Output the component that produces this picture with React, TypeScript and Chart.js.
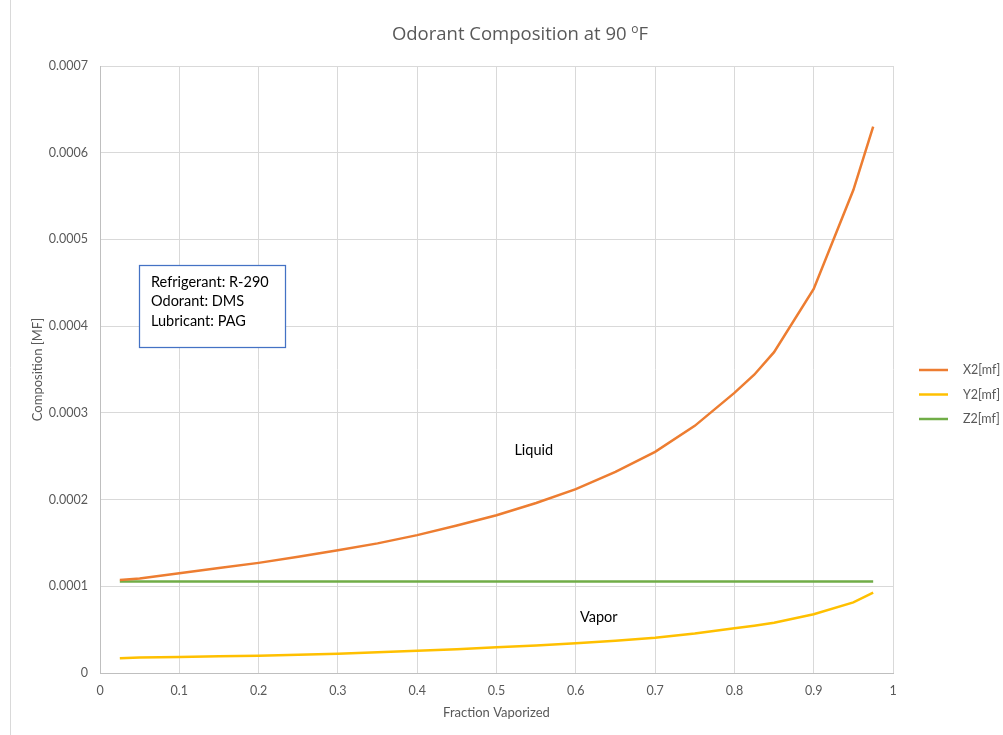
import React, { useEffect, useRef } from "react";
import { Chart, registerables } from "chart.js";

Chart.register(...registerables);

const fractionVaporized = [0.025, 0.05, 0.1, 0.15, 0.2, 0.25, 0.3, 0.35, 0.4, 0.45, 0.5, 0.55, 0.6, 0.65, 0.7, 0.75, 0.8, 0.825, 0.85, 0.9, 0.95, 0.975];
const x2Values = [1.073e-4, 1.09e-4, 1.15e-4, 1.21e-4, 1.27e-4, 1.34e-4, 1.415e-4, 1.495e-4, 1.59e-4, 1.70e-4, 1.82e-4, 1.96e-4, 2.12e-4, 2.32e-4, 2.55e-4, 2.85e-4, 3.23e-4, 3.44e-4, 3.70e-4, 4.43e-4, 5.57e-4, 6.30e-4];
const y2Values = [1.70e-5, 1.78e-5, 1.85e-5, 1.93e-5, 2.0e-5, 2.1e-5, 2.23e-5, 2.38e-5, 2.57e-5, 2.75e-5, 2.96e-5, 3.17e-5, 3.42e-5, 3.72e-5, 4.07e-5, 4.55e-5, 5.15e-5, 5.45e-5, 5.8e-5, 6.77e-5, 8.15e-5, 9.26e-5];
const z2Values = fractionVaporized.map(() => 1.055e-4);
const seriesLabels = ["X2[mf]", "Y2[mf]", "Z2[mf]"];
const seriesColors = ["#ED7D31", "#FFC000", "#70AD47"];
const xTicks = [0, 0.1, 0.2, 0.3, 0.4, 0.5, 0.6, 0.7, 0.8, 0.9, 1];
const yTicks = [0, 0.0001, 0.0002, 0.0003, 0.0004, 0.0005, 0.0006, 0.0007];
const infoLines = ["Refrigerant: R-290", "Odorant: DMS", "Lubricant: PAG"];

const FONT = "Lato, 'Open Sans', sans-serif";
const GREY = "#595959";

const decorPlugin = {
  id: "decor",
  afterDraw(chart: any) {
    const ctx = chart.ctx;
    const xs = chart.scales.x;
    const ys = chart.scales.y;
    ctx.save();
    // left border
    ctx.strokeStyle = "#d9d9d9";
    ctx.lineWidth = 1;
    ctx.beginPath();
    ctx.moveTo(10.5, 0);
    ctx.lineTo(10.5, 735);
    ctx.stroke();

    // title
    ctx.fillStyle = GREY;
    ctx.textBaseline = "middle";
    const p1 = "Odorant Composition at 90 ";
    const big = "18.5px 'Open Sans', sans-serif";
    const small = "12px 'Open Sans', sans-serif";
    ctx.font = big;
    const w1 = ctx.measureText(p1).width;
    ctx.font = small;
    const w2 = ctx.measureText("o").width;
    ctx.font = big;
    const w3 = ctx.measureText("F").width;
    const total = w1 + w2 + w3;
    const tx = 520 - total / 2;
    ctx.textAlign = "left";
    ctx.fillText(p1, tx, 35);
    ctx.font = small;
    ctx.fillText("o", tx + w1, 30);
    ctx.font = big;
    ctx.fillText("F", tx + w1 + w2, 35);

    // axis titles
    ctx.font = "13px " + FONT;
    ctx.textAlign = "center";
    ctx.fillText("Fraction Vaporized", (xs.left + xs.right) / 2, 713);
    ctx.save();
    ctx.translate(38, (ys.top + ys.bottom) / 2);
    ctx.rotate(-Math.PI / 2);
    ctx.fillText("Composition [MF]", 0, 0);
    ctx.restore();

    // legend
    chart.data.datasets.forEach((ds: any, i: number) => {
      const y = 370 + i * 24.5;
      ctx.strokeStyle = ds.borderColor;
      ctx.lineWidth = 2.5;
      ctx.beginPath();
      ctx.moveTo(919, y);
      ctx.lineTo(948, y);
      ctx.stroke();
      ctx.fillStyle = GREY;
      ctx.font = "12.5px " + FONT;
      ctx.textAlign = "left";
      ctx.fillText(ds.label, 963, y);
    });

    // info box
    ctx.fillStyle = "#ffffff";
    ctx.fillRect(139.5, 265.5, 146, 82);
    ctx.strokeStyle = "#4472C4";
    ctx.lineWidth = 1.25;
    ctx.strokeRect(139.5, 265.5, 146, 82);
    ctx.fillStyle = "#000000";
    ctx.font = "14.5px " + FONT;
    ctx.textAlign = "left";
    infoLines.forEach((t, i) => ctx.fillText(t, 151, 282 + i * 19.5));
    ctx.restore();
  },
};

const regionLabelPlugin = {
  id: "regionLabels",
  afterDraw(chart: any) {
    const ctx = chart.ctx;
    const xs = chart.scales.x;
    const ys = chart.scales.y;
    ctx.save();
    ctx.fillStyle = "#000000";
    ctx.textBaseline = "middle";
    ctx.font = "14.5px " + FONT;
    ctx.textAlign = "center";
    ctx.fillText("Liquid", xs.getPixelForValue(0.547), ys.getPixelForValue(0.000257));
    ctx.fillText("Vapor", xs.getPixelForValue(0.629), ys.getPixelForValue(0.0000645));
    ctx.restore();
  },
};

export default function App() {
  const ref = useRef<HTMLCanvasElement>(null);
  useEffect(() => {
    document.body.style.margin = "0";
    const seriesValues = [x2Values, y2Values, z2Values];
    const chart = new Chart(ref.current!, {
      type: "scatter",
      data: {
        datasets: seriesValues.map((vals, i) => ({
          label: seriesLabels[i],
          data: fractionVaporized.map((x, j) => ({ x, y: vals[j] })),
          borderColor: seriesColors[i],
          backgroundColor: seriesColors[i],
          showLine: true,
          pointRadius: 0,
          borderWidth: 2.5,
          tension: 0,
        })),
      },
      options: {
        animation: false,
        responsive: false,
        layout: { padding: { top: 66, right: 110, bottom: 0, left: 0 } },
        plugins: { legend: { display: false }, title: { display: false }, tooltip: { enabled: false } },
        scales: {
          x: {
            type: "linear",
            min: 0,
            max: 1,
            afterBuildTicks: (s: any) => { s.ticks = xTicks.map((v) => ({ value: v })); },
            afterFit: (s: any) => { s.height = 62; },
            grid: { color: "#d9d9d9", drawTicks: false },
            border: { color: "#bfbfbf" },
            ticks: { color: GREY, font: { family: FONT, size: 12.5 }, padding: 10, callback: (v: any) => String(v) },
          },
          y: {
            type: "linear",
            min: 0,
            max: 0.0007,
            afterBuildTicks: (s: any) => { s.ticks = yTicks.map((v) => ({ value: v })); },
            afterFit: (s: any) => { s.width = 100; },
            grid: { color: "#d9d9d9", drawTicks: false },
            border: { color: "#bfbfbf" },
            ticks: { color: GREY, font: { family: FONT, size: 12.5 }, padding: 12, callback: (v: any) => (v === 0 ? "0" : Number(v).toFixed(4)) },
          },
        },
      },
      plugins: [decorPlugin, regionLabelPlugin],
    });
    return () => chart.destroy();
  }, []);
  return (
    <div style={{ width: 1003, height: 735, background: "#fff" }}>
      <canvas ref={ref} width={1003} height={735} style={{ display: "block" }} />
    </div>
  );
}
